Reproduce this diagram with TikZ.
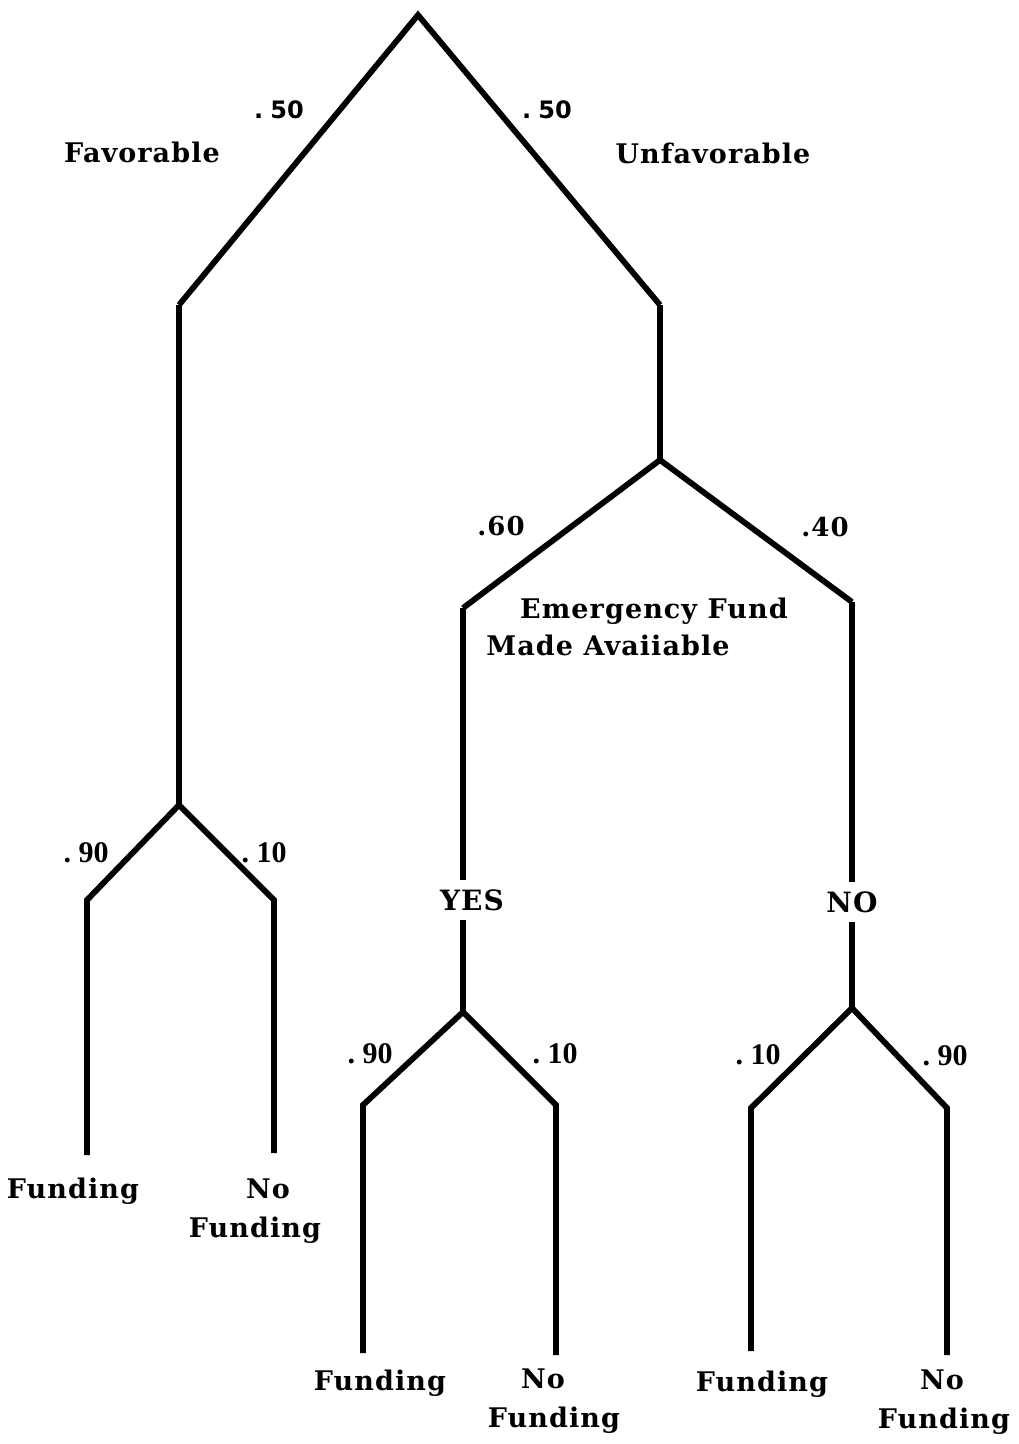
\documentclass[tikz,border=0pt]{standalone}
\usepackage{fontspec}
\setmainfont{DejaVu Serif}
\newfontfamily\lblfont{DejaVu Serif Bold}[LetterSpace=4]
\newfontfamily\topnumfont{DejaVu Sans Bold}
\newfontfamily\lownumfont{Liberation Serif Bold}
\begin{document}
\begin{tikzpicture}[x=1pt,y=-1pt,
  branch/.style={line width=5.8pt, line join=miter, line cap=butt, black},
  lbl/.style={font=\lblfont\fontsize{27}{30}\selectfont, inner sep=0pt, anchor=base},
  toplbl/.style={font=\topnumfont\fontsize{24}{28}\selectfont, inner sep=0pt, anchor=base},
  midnum/.style={font=\lblfont\fontsize{26}{30}\selectfont, inner sep=0pt, anchor=base},
  lownum/.style={font=\lownumfont\fontsize{30}{34}\selectfont, inner sep=0pt, anchor=base},
  gaplbl/.style={font=\lblfont\fontsize{28}{32}\selectfont, inner xsep=0pt, inner ysep=9pt, anchor=center}]
\useasboundingbox (0,0) rectangle (1019,1444);
% tree vertices
\coordinate (root) at (418,15);
\coordinate (fav) at (179,305);
\coordinate (favfork) at (179,805);
\coordinate (favL) at (87,900);
\coordinate (favLend) at (87,1155);
\coordinate (favR) at (274,900);
\coordinate (favRend) at (274,1153);
\coordinate (unf) at (660,305);
\coordinate (unffork) at (660,460);
\coordinate (ytop) at (463,608);
\coordinate (ntop) at (852,602);
\coordinate (yfork) at (463,1012);
\coordinate (nfork) at (852,1008);
\coordinate (yL) at (363,1105);
\coordinate (yLend) at (363,1353);
\coordinate (yR) at (556,1105);
\coordinate (yRend) at (556,1355);
\coordinate (nL) at (751,1108);
\coordinate (nLend) at (751,1351);
\coordinate (nR) at (947,1108);
\coordinate (nRend) at (947,1355);
% gap labels
\node[gaplbl] (yes) at (472,900) {YES};
\node[gaplbl] (no) at (852,902) {NO};
% connectors
\draw[branch] (fav) -- (root) -- (unf);
\draw[branch] (fav) -- (favfork);
\draw[branch] (unf) -- (unffork);
\draw[branch] (favLend) -- (favL) -- (favfork) -- (favR) -- (favRend);
\draw[branch] (ytop) -- (unffork) -- (ntop);
\draw[branch] (ytop) -- (ytop |- yes.north);
\draw[branch] (ytop |- yes.south) -- (yfork);
\draw[branch] (ntop) -- (ntop |- no.north);
\draw[branch] (ntop |- no.south) -- (nfork);
\draw[branch] (yLend) -- (yL) -- (yfork) -- (yR) -- (yRend);
\draw[branch] (nLend) -- (nL) -- (nfork) -- (nR) -- (nRend);
% labels
\node[toplbl] (pfav) at (279,118) {.\hspace{0.3em}50};
\node[toplbl] (punf) at (547,118) {.\hspace{0.3em}50};
\node[lbl] (tfav) at (142,162) {Favorable};
\node[lbl] (tunf) at (713,163) {Unfavorable};
\node[midnum] (pyes) at (501,535) {.60};
\node[midnum] (pno) at (825,536) {.40};
\node[lbl] (em1) at (654,618) {Emergency Fund};
\node[lbl] (em2) at (608,655) {Made Avaiiable};
\node[lownum] (p1) at (86,862) {.\hspace{0.25em}90};
\node[lownum] (p2) at (264,862) {.\hspace{0.25em}10};
\node[lownum] (p3) at (370,1063) {.\hspace{0.25em}90};
\node[lownum] (p4) at (555,1063) {.\hspace{0.25em}10};
\node[lownum] (p5) at (758,1064) {.\hspace{0.25em}10};
\node[lownum] (p6) at (945,1065) {.\hspace{0.25em}90};
\node[lbl] (f1) at (73,1198) {Funding};
\node[lbl] (n1a) at (268,1198) {No};
\node[lbl] (n1b) at (255,1237) {Funding};
\node[lbl] (f2) at (380,1390) {Funding};
\node[lbl] (n2a) at (543,1388) {No};
\node[lbl] (n2b) at (554,1427) {Funding};
\node[lbl] (f3) at (762,1391) {Funding};
\node[lbl] (n3a) at (942,1389) {No};
\node[lbl] (n3b) at (944,1428) {Funding};
\end{tikzpicture}
\end{document}
